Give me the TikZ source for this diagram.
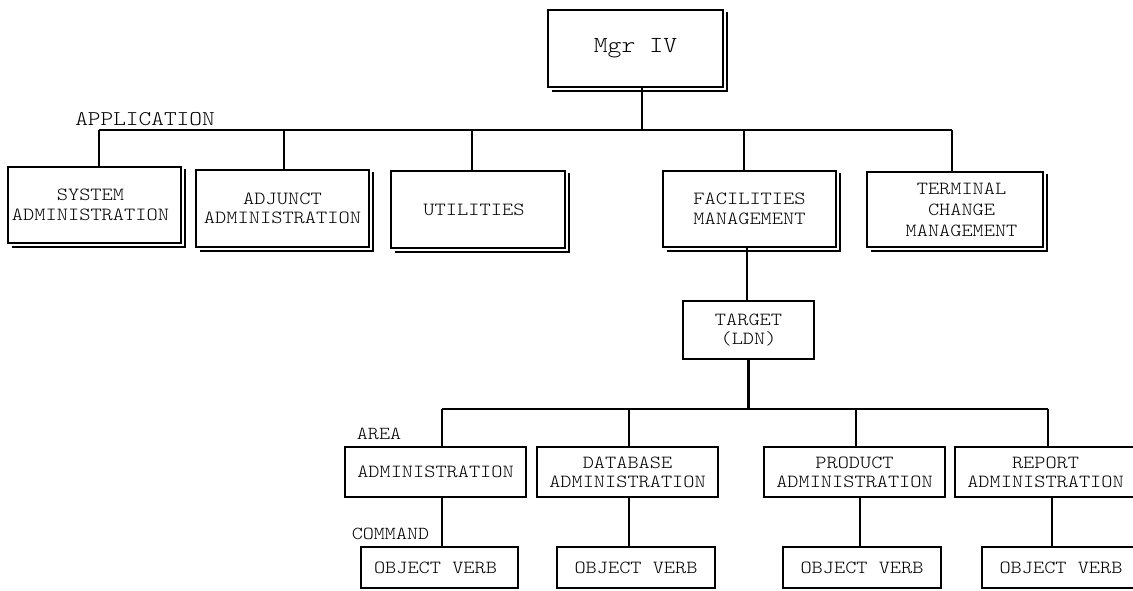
\documentclass[tikz,border=0pt]{standalone}
\usepackage{fontspec}
\setmonofont{Latin Modern Mono Light}[FakeStretch=1.15]
\begin{document}
\begin{tikzpicture}[x=1pt,y=-1pt,
  frame/.style={draw, line width=2.4pt, fill=white, inner sep=0pt, align=center},
  toptext/.style={font=\ttfamily\fontsize{18.6}{19.5}\selectfont},
  lowtext/.style={font=\ttfamily\fontsize{18.5}{19}\selectfont},
  tag/.style={inner sep=0pt, font=\ttfamily\fontsize{18.3}{19}\selectfont},
  shadowline/.style={draw, line width=1.6pt},
  wire/.style={draw, line width=2.4pt}]
\useasboundingbox (0,0) rectangle (1133,590);

% top manager
\node[frame, minimum width=175pt, minimum height=77pt,
      font=\ttfamily\fontsize{23}{24}\selectfont] (mgr) at (635.5,48.5) {\raisebox{5pt}{Mgr IV}};

% application level
\node[tag, font=\ttfamily\fontsize{21}{22}\selectfont] (apptag) at (145,119) {APPLICATION};
\node[frame, toptext, minimum width=173pt, minimum height=76pt] (sys)  at (94.5,205)  {\hspace*{-8pt}SYSTEM\\\hspace*{-8pt}ADMINISTRATION};
\node[frame, toptext, minimum width=173pt, minimum height=77pt] (adj)  at (282.5,208.5) {ADJUNCT\\ADMINISTRATION};
\node[frame, toptext, minimum width=174pt, minimum height=77pt] (util) at (478,209.5) {\hspace*{-8pt}UTILITIES};
\node[frame, toptext, minimum width=173pt, minimum height=76pt] (fac)  at (749.5,209) {FACILITIES\\MANAGEMENT};
\node[frame, font=\ttfamily\fontsize{18.5}{21}\selectfont, minimum width=176pt, minimum height=75pt] (term) at (955,209.5) {\hspace*{13pt}TERMINAL\\\hspace*{13pt}CHANGE\\\hspace*{13pt}MANAGEMENT};

% drop shadows of the upper boxes
\foreach \n in {mgr,sys,adj,util,fac,term}{
  \draw[shadowline] ([shift={(5pt,-3pt)}]\n.south west) -- ([shift={(3pt,-3pt)}]\n.south east)
                    -- ([shift={(3pt,-3pt)}]\n.north east);
}

% target
\node[frame, lowtext, minimum width=131pt, minimum height=58pt] (target) at (748.5,330) {TARGET\\(LDN)};

% area level
\node[tag] (areatag) at (379,434) {AREA};
\node[frame, lowtext, minimum width=181pt, minimum height=50pt] (adm)  at (435.5,472) {ADMINISTRATION};
\node[frame, lowtext, minimum width=181pt, minimum height=50pt] (db)   at (627.5,472) {DATABASE\\ADMINISTRATION};
\node[frame, lowtext, minimum width=181pt, minimum height=50pt] (prod) at (854.5,472) {PRODUCT\\ADMINISTRATION};
\node[frame, lowtext, minimum width=181pt, minimum height=50pt] (rep)  at (1045.5,472) {REPORT\\ADMINISTRATION};

% command level
\node[tag] (cmdtag) at (390.5,534) {COMMAND};
\node[frame, lowtext, minimum width=157pt, minimum height=41pt] (ov1) at (439.5,567.5) {\hspace*{-8pt}OBJECT VERB};
\node[frame, lowtext, minimum width=158pt, minimum height=41pt] (ov2) at (636,567.5)   {OBJECT VERB};
\node[frame, lowtext, minimum width=158pt, minimum height=41pt] (ov3) at (862,567.5)   {OBJECT VERB};
\node[frame, lowtext, minimum width=158pt, minimum height=41pt] (ov4) at (1061,567.5)  {OBJECT VERB};

% application bus
\coordinate (appL) at (99,130);
\coordinate (appR) at (952,130);
\draw[wire] (appL) -- (appR);
\draw[wire] ([xshift=6.5pt]mgr.south) -- ([xshift=6.5pt]mgr.south |- appL);
\draw[wire] ([xshift=4.5pt]sys.north)  -- ([xshift=4.5pt]sys.north |- appL);
\draw[wire] ([xshift=1.5pt]adj.north)  -- ([xshift=1.5pt]adj.north |- appL);
\draw[wire] ([xshift=-6pt]util.north)  -- ([xshift=-6pt]util.north |- appL);
\draw[wire] ([xshift=-5.5pt]fac.north) -- ([xshift=-5.5pt]fac.north |- appL);
\draw[wire] ([xshift=-3pt]term.north)  -- ([xshift=-3pt]term.north |- appL);

% facilities to target
\draw[wire] ([xshift=-1.5pt]target.north) -- ([xshift=-1.5pt]target.north |- fac.south);

% area bus
\coordinate (areaL) at (442,409);
\coordinate (areaR) at (1048,409);
\draw[wire] (areaL) -- (areaR);
\draw[wire] (target.south) -- (target.south |- areaL);
\draw[wire] ([xshift=6.5pt]adm.north)  -- ([xshift=6.5pt]adm.north |- areaL);
\draw[wire] ([xshift=1.5pt]db.north)   -- ([xshift=1.5pt]db.north |- areaL);
\draw[wire] ([xshift=1.5pt]prod.north) -- ([xshift=1.5pt]prod.north |- areaL);
\draw[wire] ([xshift=2.5pt]rep.north)  -- ([xshift=2.5pt]rep.north |- areaL);

% area to command
\draw[wire] ([xshift=6.5pt]adm.south)  -- ([xshift=6.5pt]adm.south |- ov1.north);
\draw[wire] ([xshift=1.5pt]db.south)   -- ([xshift=1.5pt]db.south |- ov2.north);
\draw[wire] ([xshift=5.5pt]prod.south) -- ([xshift=5.5pt]prod.south |- ov3.north);
\draw[wire] ([xshift=6.5pt]rep.south)  -- ([xshift=6.5pt]rep.south |- ov4.north);
\end{tikzpicture}
\end{document}
